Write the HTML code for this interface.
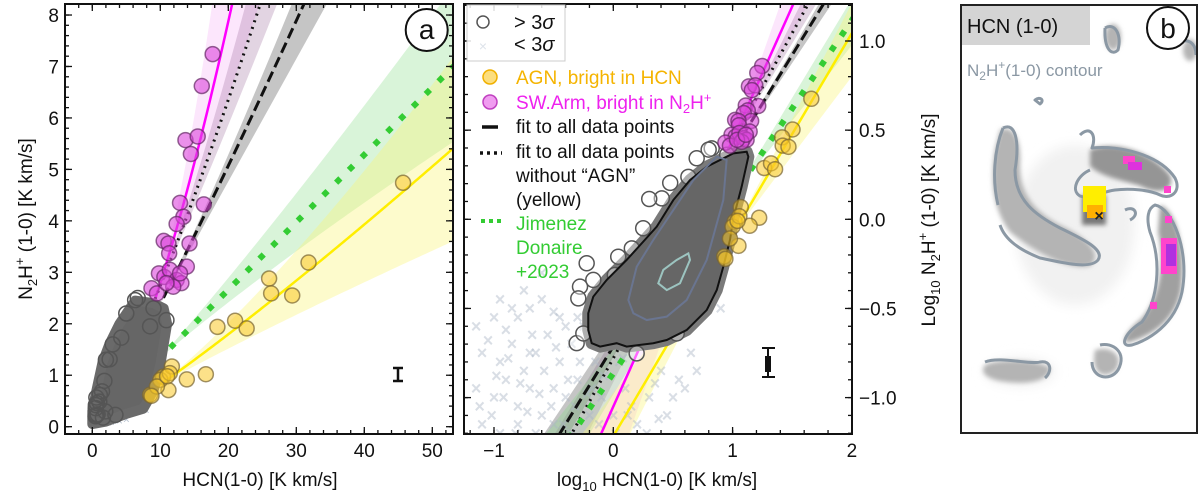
<!DOCTYPE html>
<html><head><meta charset="utf-8">
<style>
html,body{margin:0;padding:0;background:#fff;width:1200px;height:496px;overflow:hidden;}
#wrap{position:relative;width:1200px;height:496px;overflow:hidden;}
svg{display:block;font-family:"Liberation Sans",sans-serif;overflow:hidden;}
</style></head>
<body>
<div id="wrap">
<svg id="fig" width="1200" height="496" viewBox="0 0 1200 496" xmlns="http://www.w3.org/2000/svg">
<defs>
  <clipPath id="clipA"><rect x="65" y="4" width="388" height="430"/></clipPath>
  <clipPath id="clipB"><rect x="464" y="4" width="388" height="430"/></clipPath>
  <clipPath id="clipC"><rect x="961" y="5" width="236" height="428"/></clipPath>
  <filter id="blur2"><feGaussianBlur stdDeviation="2.5"/></filter>
  <filter id="blur5"><feGaussianBlur stdDeviation="6"/></filter>
</defs>
<g id="panelA"></g>
<g id="panelB"></g>
<g id="panelC">
  <g clip-path="url(#clipC)">
    <g filter="url(#blur5)" fill="#f1f1f1">
      <ellipse cx="1075" cy="225" rx="60" ry="80"/>
      <ellipse cx="1020" cy="372" rx="35" ry="14"/>
    </g>
    <g filter="url(#blur2)" fill="#b4b4b4">
      <path d="M1000,130 C1012,124 1022,138 1020,165 C1020,195 1035,212 1062,226 C1092,240 1102,256 1090,266 C1070,270 1040,256 1010,232 C993,210 990,180 995,150 Z"/>
      <path d="M1090,150 C1112,140 1150,150 1170,175 C1176,190 1160,196 1140,186 C1120,180 1100,176 1090,166 Z" fill="#959595"/>
      <path d="M1160,205 C1177,210 1186,250 1181,290 C1175,322 1150,336 1130,342 C1120,346 1125,332 1140,320 C1160,300 1165,262 1158,232 Z" fill="#a0a0a0"/>
      <path d="M1095,350 C1110,345 1125,355 1116,370 C1105,380 1090,375 1095,350 Z"/>
      <path d="M985,365 C1000,358 1040,360 1050,368 C1050,380 1030,386 1000,381 C985,378 980,372 985,365 Z"/>
      <ellipse cx="1113" cy="37" rx="8" ry="13"/>
      <ellipse cx="1190" cy="50" rx="7" ry="11"/>
      <rect x="1082" y="195" width="24" height="30" fill="#777"/>
    </g>
    <g fill="none" stroke="#8b98a4" stroke-width="3" stroke-linejoin="round">
      <path d="M1003,128 C1015,122 1020,140 1015,170 C1015,200 1035,215 1060,228 C1085,240 1105,250 1098,260 C1090,270 1060,262 1040,258 C1020,250 1005,240 1000,225 M998,205 C992,180 994,150 1003,128"/>
      <path d="M1080,135 C1090,125 1097,135 1092,148 C1120,145 1160,155 1175,178 C1182,192 1170,200 1160,195 C1150,190 1130,188 1115,190 C1100,192 1090,200 1080,196 C1070,190 1078,175 1090,170"/>
      <path d="M1155,205 C1172,208 1190,250 1182,292 C1175,325 1148,340 1132,345 C1118,348 1125,332 1142,322 C1158,300 1162,262 1150,232 C1146,218 1148,208 1155,205 Z"/>
      <path d="M1100,345 C1112,342 1128,352 1118,370 C1110,382 1092,378 1092,362"/>
      <path d="M985,362 C1000,356 1030,365 1040,362 C1052,360 1052,372 1045,378"/>
      <path d="M1105,28 C1115,22 1122,35 1118,50 C1112,56 1104,50 1105,28"/>
      <path d="M1180,42 C1190,38 1196,45 1196,55"/>
      <path d="M1125,210 C1135,205 1140,215 1130,220"/>
      <path d="M1035,100 C1040,96 1045,100 1040,104 Z"/>
    </g>
    <g fill="#ff44cc">
      <rect x="1123" y="156" width="12" height="8"/>
      <rect x="1128" y="162" width="14" height="8" fill="#dd33dd"/>
      <rect x="1164" y="186" width="7" height="7"/>
      <rect x="1165" y="216" width="7" height="7"/>
      <rect x="1161" y="238" width="16" height="36"/>
      <rect x="1166" y="244" width="10" height="22" fill="#b030e0"/>
      <rect x="1150" y="302" width="7" height="7"/>
    </g>
    <g>
      <rect x="1083" y="186" width="23" height="26" fill="#ffee00"/>
      <rect x="1087" y="205" width="16" height="13" fill="#ffb000"/>
      <text x="1099" y="221" font-size="16" font-weight="bold" text-anchor="middle" fill="#222">×</text>
    </g>
  </g>
  <rect x="961" y="5" width="129" height="40" fill="#d4d4d4"/>
  <text x="967" y="33" font-size="20" fill="#111">HCN (1-0)</text>
  <text x="967" y="76" font-size="17" fill="#8b98a4">N<tspan font-size="12" dy="4">2</tspan><tspan dy="-4">H</tspan><tspan dy="-7" font-size="12">+</tspan><tspan dy="7">(1-0) contour</tspan></text>
  <rect x="961" y="5" width="236" height="428" fill="none" stroke="#222" stroke-width="2"/>
  <circle cx="1168" cy="28" r="21" fill="#fff" stroke="#111" stroke-width="2"/>
  <text x="1168" y="38" font-size="28" text-anchor="middle" fill="#111">b</text>
</svg>
</div>
<script>
// ---------- data ----------
const agnX = [45.7,31.8,26.0,26.3,29.4,18.4,21.0,22.7,16.7,13.9,11.2,8.5,10.4,11.7,10.0,11.4,9.5,8.7,11.0];
const agnY = [4.74,3.19,2.88,2.59,2.55,1.94,2.06,1.91,1.02,0.92,0.71,0.62,0.97,1.17,0.91,1.04,0.78,0.6,0.98];
const armX = [17.7,16.1,13.7,15.5,14.5,12.9,16.4,13.4,12.4,14.3,10.5,11.2,11.3,13.9,9.8,10.6,11.4,12.4,13.1,8.7,9.5,11.9,10.9,12.9];
const armY = [7.24,6.62,5.57,5.64,5.30,4.35,4.32,4.08,3.94,3.56,3.61,3.56,3.37,3.11,2.98,2.91,3.05,2.85,2.79,2.69,2.59,2.72,2.79,2.98];
const grayX = [0.598,0.68,0.526,0.509,1.10,1.43,1.78,2.55,1.03,0.493,0.561,1.57,3.40,6.68,4.26,1.91,0.774,6.3,10.9,9.0,8.5,5.0,3.0,2.0];
const grayY = [0.567,0.457,0.419,0.360,0.617,0.687,0.891,1.31,0.487,0.202,0.229,0.177,0.229,2.50,1.73,0.297,0.239,2.46,2.07,2.3,1.95,2.2,1.6,1.3];
const lowLX = [-1.15,-1.0,-0.9,-0.8,-0.7,-0.6,-0.5,-1.1,-0.95,-0.85,-0.75,-0.65,-0.55,-0.45,-0.35,-1.15,-1.0,-0.9,-0.8,-0.7,-0.6,-0.5,-0.4,-0.3,-0.2,-1.1,-0.95,-0.8,-0.65,-0.5,-0.35,-0.1,0.0,0.1,0.2,0.3,0.4,0.45,-0.25,0.9,0.65,0.55,-0.6,-0.7,-0.15,0.25,
  -1.05,-0.98,-0.88,-0.78,-0.68,-0.58,-0.48,-0.38,-0.28,-0.18,-0.08,0.05,0.15,0.35,-1.12,-1.02,-0.92,-0.82,-0.72,-0.62,-0.52,-0.42,-0.32,-0.22,-0.12,0.02,0.12,0.28,0.38,0.5,-0.85,-0.75,-0.45,-0.05,0.6,0.7,-0.95,-0.4,-0.3,0.08];
const lowLY = [-0.6,-0.55,-0.62,-0.55,-0.5,-0.45,-0.52,-0.75,-0.8,-0.7,-0.85,-0.75,-0.65,-0.8,-0.7,-0.95,-1.0,-0.9,-1.05,-0.95,-1.1,-0.95,-1.0,-0.9,-1.1,-1.15,-1.2,-1.15,-1.2,-1.15,-1.2,-1.0,-1.1,-0.95,-1.15,-1.0,-0.85,-1.1,-0.6,-0.5,-0.75,-0.9,-0.3,-0.75,-0.8,-0.7,
  -0.68,-0.88,-0.78,-0.92,-0.65,-0.85,-0.72,-0.9,-0.8,-0.95,-0.88,-0.8,-1.05,-0.92,-1.05,-1.1,-1.0,-1.2,-1.08,-0.98,-1.05,-1.15,-1.05,-0.98,-1.15,-1.2,-1.1,-1.2,-1.12,-1.0,-0.5,-0.4,-0.55,-0.7,-0.95,-0.85,-0.45,-0.6,-0.55,-0.78];
const cloudAX = [0,2,5,7.5,9,10,11,10.5,9,6.3,4,2.5,1.5,0.6,0];
const cloudAY = [0.05,0.1,0.25,0.35,0.7,1.2,2.0,2.3,2.4,2.45,2.0,1.6,1.25,0.7,0.3];
const contOutLX = [-0.181,-0.111,0.028,0.112,0.335,0.448,0.615,0.783,0.867,0.922,0.978,1.006,1.076,1.132,1.118,1.006,0.783,0.643,0.503,0.364,0.238,0.112,-0.055,-0.168,-0.210,-0.210];
const contOutLY = [-0.695,-0.714,-0.695,-0.714,-0.695,-0.677,-0.621,-0.509,-0.397,-0.266,-0.116,0.004,0.183,0.351,0.379,0.370,0.295,0.220,0.108,-0.041,-0.135,-0.228,-0.340,-0.434,-0.527,-0.621];
const contMidLX = [0.126,0.168,0.280,0.448,0.615,0.783,0.922,0.950,0.867,0.671,0.503,0.335,0.196];
const contMidLY = [-0.453,-0.527,-0.565,-0.546,-0.453,-0.228,0.108,0.333,0.351,0.220,0.052,-0.116,-0.266];
const contInLX = [0.377,0.448,0.559,0.643,0.629,0.531,0.419];
const contInLY = [-0.359,-0.397,-0.359,-0.228,-0.191,-0.228,-0.284];
const fitNames = ['magenta','dotted','dashed','green','yellow'];
const fitA = [-1.05,-0.779,-0.713,-0.863,-1.216];
const fitB = [1.496,1.216,1.09,0.99,1.13];
const bandLo = [1.2,1.1,1.0,0.85,0.887];
const bandHi = [1.9,1.35,1.15,1.11,1.30];
const xTicksA = [0,10,20,30,40,50];
const yTicksA = [0,1,2,3,4,5,6,7,8];
const xTicksB = [-1,0,1,2];
const yTicksB = [-1.0,-0.5,0.0,0.5,1.0];

// ---------- helpers ----------
const NS='http://www.w3.org/2000/svg';
function mk(parent,tag,attrs){const e=document.createElementNS(NS,tag);for(const k in attrs)e.setAttribute(k,attrs[k]);parent.appendChild(e);return e;}
const ax=x=>92.3+6.8*x, ay=y=>426.7-51.46*y;
const bx=l=>613.3+119.3*l, by=l=>219.3-178.3*l;
const log=Math.log10;
const styles={
 magenta:{c:'#ff00ff',w:2.5,d:'',band:'rgba(240,140,240,0.22)'},
 dotted:{c:'#111',w:3,d:'2 5',band:'rgba(150,100,150,0.28)'},
 dashed:{c:'#111',w:3,d:'11 5',band:'rgba(110,110,110,0.4)'},
 green:{c:'#33cc33',w:6,d:'6 12',band:'rgba(130,220,130,0.3)'},
 yellow:{c:'#ffee00',w:2.5,d:'',band:'rgba(250,245,120,0.38)'}
};
function ticks(g,X,Y,x0,x1,y0,y1,xs,ys,len){
  xs.forEach(v=>{mk(g,'line',{x1:X(v),x2:X(v),y1:y1,y2:y1-len,stroke:'#111','stroke-width':1.3});mk(g,'line',{x1:X(v),x2:X(v),y1:y0,y2:y0+len,stroke:'#111','stroke-width':1.3});});
  ys.forEach(v=>{mk(g,'line',{x1:x0,x2:x0+len,y1:Y(v),y2:Y(v),stroke:'#111','stroke-width':1.3});mk(g,'line',{x1:x1,x2:x1-len,y1:Y(v),y2:Y(v),stroke:'#111','stroke-width':1.3});});
}
function range(a,b,s){const r=[];for(let v=a;v<=b+1e-9;v+=s)r.push(+v.toFixed(4));return r;}

// ---------- panel A (linear) ----------
const A=document.getElementById('panelA');
const Ad=mk(A,'g',{'clip-path':'url(#clipA)'});
fitNames.forEach((n,i)=>{
  const piv=fitA[i]+fitB[i]*1; let up=[],lo=[];
  for(let x=0.05;x<=56;x+=0.5){const l=log(x);up.push(ax(x)+','+ay(Math.pow(10,piv+bandHi[i]*(l-1))));lo.push(ax(x)+','+ay(Math.pow(10,piv+bandLo[i]*(l-1))));}
  const p=mk(Ad,'polygon',{points:up.concat(lo.reverse()).join(' '),fill:styles[n].band});
  
  
});
fitNames.forEach((n,i)=>{
  let pts=[];for(let x=0.3;x<=56;x+=0.25){pts.push(ax(x)+','+ay(Math.pow(10,fitA[i]+fitB[i]*log(x))));}
  const s=styles[n];
  const l=mk(Ad,'polyline',{points:pts.join(' '),fill:'none',stroke:s.c,'stroke-width':s.w,'stroke-dasharray':s.d});
  
  
});
lowLX.forEach((lx,i)=>{const x=Math.pow(10,lx),y=Math.pow(10,lowLY[i]);
  const t=mk(Ad,'text',{x:ax(x),y:ay(y)+4,'font-size':12,'text-anchor':'middle',fill:'rgba(120,140,165,0.5)'});t.textContent='×';
  
  
});
const cl=mk(Ad,'polygon',{points:cloudAX.map((x,i)=>ax(x)+','+ay(cloudAY[i])).join(' '),fill:'#666',stroke:'#6a6a6a','stroke-width':10,'stroke-linejoin':'round'});


grayX.forEach((x,i)=>{const c=mk(Ad,'circle',{cx:ax(x),cy:ay(grayY[i]),r:7.5,fill:'none',stroke:'#555','stroke-width':1.5});
  
  });
armX.forEach((x,i)=>{const c=mk(Ad,'circle',{cx:ax(x),cy:ay(armY[i]),r:7.5,fill:'rgba(220,70,220,0.6)',stroke:'rgba(100,40,100,0.7)','stroke-width':1.5});
  
  });
agnX.forEach((x,i)=>{const c=mk(Ad,'circle',{cx:ax(x),cy:ay(agnY[i]),r:7.5,fill:'rgba(250,200,40,0.55)',stroke:'rgba(120,100,50,0.7)','stroke-width':1.5});
  
  });
mk(A,'path',{d:'M398,368 V381 M393,368 H403 M393,381 H403',stroke:'#111','stroke-width':2.5,fill:'none'});
ticks(A,ax,ay,65,453,4,434,range(-2,52,2),range(0,8,0.2),4);
ticks(A,ax,ay,65,453,4,434,xTicksA,yTicksA,7);
mk(A,'rect',{x:65,y:4,width:388,height:430,fill:'none',stroke:'#111','stroke-width':2});
xTicksA.forEach(v=>{const t=mk(A,'text',{x:ax(v),y:457,'font-size':19,'text-anchor':'middle',fill:'#111'});t.textContent=v;
  
  });
yTicksA.forEach(v=>{const t=mk(A,'text',{x:59,y:ay(v)+7,'font-size':19,'text-anchor':'end',fill:'#111'});t.textContent=v;
  
  });
{const t=mk(A,'text',{x:260,y:486,'font-size':19,'text-anchor':'middle',fill:'#111'});t.textContent='HCN(1-0) [K km/s]';
 
 
 const y=mk(A,'text',{x:0,y:0,'font-size':19,'text-anchor':'middle',fill:'#111',transform:'translate(32,219) rotate(-90)'});
 y.innerHTML='N<tspan font-size="13" dy="5">2</tspan><tspan dy="-5">H</tspan><tspan font-size="13" dy="-8">+</tspan><tspan dy="8"> (1-0) [K km/s]</tspan>';
 
 
 mk(A,'circle',{cx:426.7,cy:30,r:21,fill:'#fff',stroke:'#111','stroke-width':2});
 const a=mk(A,'text',{x:426.7,y:39,'font-size':28,'text-anchor':'middle',fill:'#111'});a.textContent='a';
 
 }

// ---------- panel B (log) ----------
const B=document.getElementById('panelB');
const Bd=mk(B,'g',{'clip-path':'url(#clipB)'});
fitNames.forEach((n,i)=>{
  const piv=fitA[i]+fitB[i]; const xs=[-1.3,2.1];
  const pts=[xs[0],xs[1]].map(l=>bx(l)+','+by(piv+bandHi[i]*(l-1))).concat([xs[1],xs[0]].map(l=>bx(l)+','+by(piv+bandLo[i]*(l-1))));
  const p=mk(Bd,'polygon',{points:pts.join(' '),fill:styles[n].band});
  
  
});
lowLX.forEach((lx,i)=>{
  const t=mk(Bd,'text',{x:bx(lx),y:by(lowLY[i])+6,'font-size':18,'font-weight':'bold','text-anchor':'middle',fill:'rgba(170,182,198,0.45)'});t.textContent='×';
  
  
});
fitNames.forEach((n,i)=>{
  const s=styles[n];
  const l=mk(Bd,'line',{x1:bx(-1.3),y1:by(fitA[i]-1.3*fitB[i]),x2:bx(2.1),y2:by(fitA[i]+2.1*fitB[i]),stroke:s.c,'stroke-width':s.w,'stroke-dasharray':s.d});
  
  
});
const outerPts=contOutLX.map((l,i)=>bx(l)+','+by(contOutLY[i])).join(' ');
mk(Bd,'polygon',{points:outerPts,fill:'#777',stroke:'#7a7a7a','stroke-width':12,'stroke-linejoin':'round'});
grayX.forEach((x,i)=>{const c=mk(Bd,'circle',{cx:bx(log(x)),cy:by(log(grayY[i])),r:7.5,fill:'rgba(255,255,255,0.4)',stroke:'#555','stroke-width':1.5});
  
  });
{const o=mk(Bd,'polygon',{points:outerPts,fill:'#666',stroke:'#111','stroke-width':2});
 
 
 const m=mk(Bd,'polygon',{points:contMidLX.map((l,i)=>bx(l)+','+by(contMidLY[i])).join(' '),fill:'none',stroke:'#6a7590','stroke-width':2});
 
 
 const n=mk(Bd,'polygon',{points:contInLX.map((l,i)=>bx(l)+','+by(contInLY[i])).join(' '),fill:'none',stroke:'#9cc4c0','stroke-width':2});
 
 }
armX.forEach((x,i)=>{const c=mk(Bd,'circle',{cx:bx(log(x)),cy:by(log(armY[i])),r:7.5,fill:'rgba(220,70,220,0.6)',stroke:'rgba(100,40,100,0.7)','stroke-width':1.5});
  
  });
agnX.forEach((x,i)=>{const c=mk(Bd,'circle',{cx:bx(log(x)),cy:by(log(agnY[i])),r:7.5,fill:'rgba(250,200,40,0.55)',stroke:'rgba(120,100,50,0.7)','stroke-width':1.5});
  
  });
mk(B,'path',{d:'M768,348 V377 M762,348 H775 M762,377 H775',stroke:'#111','stroke-width':2,fill:'none'});
mk(B,'rect',{x:765,y:356,width:6,height:16,fill:'#111'});
ticks(B,bx,by,464,852,4,434,range(-1.2,2,0.2),range(-1.2,1.2,0.1),4);
ticks(B,bx,by,464,852,4,434,xTicksB,yTicksB,7);
mk(B,'rect',{x:464,y:4,width:388,height:430,fill:'none',stroke:'#111','stroke-width':2});
xTicksB.forEach(v=>{const t=mk(B,'text',{x:bx(v),y:457,'font-size':19,'text-anchor':'middle',fill:'#111'});t.textContent=v<0?'\u2212'+(-v):v;
  
  });
yTicksB.forEach(v=>{const t=mk(B,'text',{x:859,y:by(v)+7,'font-size':19,fill:'#111'});t.textContent=(v<0?'\u2212':'')+Math.abs(v).toFixed(1);
  
  });
{const t=mk(B,'text',{x:657,y:486,'font-size':19,'text-anchor':'middle',fill:'#111'});
 t.innerHTML='log<tspan font-size="13" dy="5">10</tspan><tspan dy="-5"> HCN(1-0) [K km/s]</tspan>';
 
 
 const y=mk(B,'text',{x:0,y:0,'font-size':19,'text-anchor':'middle',fill:'#111',transform:'translate(935,220) rotate(-90)'});
 y.innerHTML='Log<tspan font-size="13" dy="5">10</tspan><tspan dy="-5"> N</tspan><tspan font-size="13" dy="5">2</tspan><tspan dy="-5">H</tspan><tspan font-size="13" dy="-8">+</tspan><tspan dy="8"> (1-0) [K km/s]</tspan>';
 
 }
{const L=mk(B,'g',{});
 
 
 mk(L,'rect',{x:467,y:5,width:98,height:56,fill:'rgba(255,255,255,0.85)',stroke:'#ccc','stroke-width':1});
 mk(L,'circle',{cx:483,cy:22,r:6,fill:'none',stroke:'#555','stroke-width':1.5});
 let t=mk(L,'text',{x:514,y:29,'font-size':20,fill:'#111'});t.innerHTML='&gt; 3<tspan font-style="italic">σ</tspan>';
 t=mk(L,'text',{x:483,y:51,'font-size':14,'text-anchor':'middle',fill:'#dde3ea'});t.textContent='×';
 t=mk(L,'text',{x:514,y:51,'font-size':20,fill:'#111'});t.innerHTML='&lt; 3<tspan font-style="italic">σ</tspan>';
 mk(L,'circle',{cx:490,cy:77,r:7,fill:'rgba(250,200,40,0.6)',stroke:'#f0b000','stroke-width':1.5});
 mk(L,'circle',{cx:490,cy:102,r:7,fill:'rgba(230,90,230,0.6)',stroke:'#c040c0','stroke-width':1.5});
 mk(L,'line',{x1:482,x2:498,y1:127,y2:127,stroke:'#111','stroke-width':3.5});
 mk(L,'line',{x1:480,x2:502,y1:153,y2:153,stroke:'#111','stroke-width':3.5,'stroke-dasharray':'3 4'});
 mk(L,'line',{x1:481,x2:503,y1:221,y2:221,stroke:'#33cc33','stroke-width':4,'stroke-dasharray':'4 4'});
 const rows=[['AGN, bright in HCN','#f5b400',84],['SW.Arm, bright in N<tspan font-size="13" dy="4">2</tspan><tspan dy="-4">H</tspan><tspan font-size="13" dy="-7">+</tspan>','#ee22ee',109],
   [' fit to all data points','#111',133],['fit to all data points','#111',158],['without “AGN”','#111',182],['(yellow)','#111',206],
   ['Jimenez','#33cc33',230],['Donaire','#33cc33',254],['+2023','#33cc33',278]];
 rows.forEach(r=>{const e=mk(L,'text',{x:516,y:r[2],'font-size':19,fill:r[1]});e.innerHTML=r[0];
   
   });
}
</script>
</body></html>
